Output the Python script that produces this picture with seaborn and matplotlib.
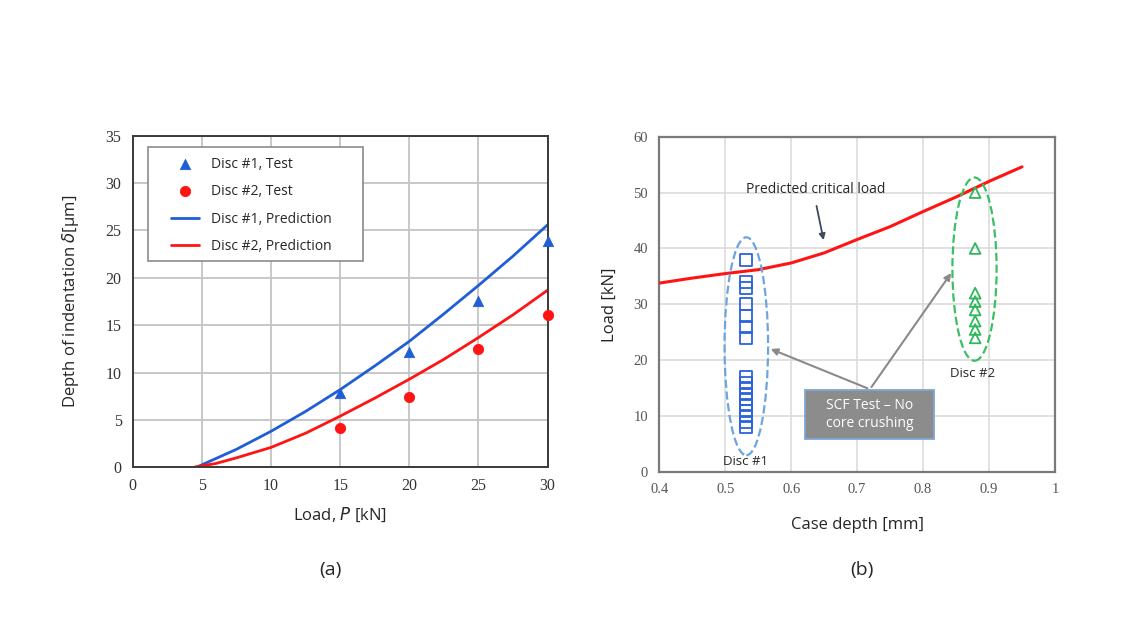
import numpy as np
import pandas as pd
import matplotlib.pyplot as plt
import seaborn as sns
from matplotlib.patches import Ellipse, Rectangle

# (a) indentation test vs prediction
load_test = [15, 20, 25, 30]
disc1_test = [7.8, 12.2, 17.6, 23.9]
disc2_test = [4.2, 7.4, 12.5, 16.1]

load_pred1 = [4.6, 7.5, 10, 12.5, 15, 17.5, 20, 22.5, 25, 27.5, 30]
disc1_pred = [0.0, 1.9, 3.8, 5.9, 8.2, 10.7, 13.3, 16.2, 19.2, 22.3, 25.6]
load_pred2 = [4.4, 6, 7.5, 10, 12.5, 15, 17.5, 20, 22.5, 25, 27.5, 30]
disc2_pred = [0.0, 0.4, 1.0, 2.1, 3.6, 5.4, 7.3, 9.3, 11.4, 13.7, 16.1, 18.7]

# (b) case depth vs critical load
depth_curve = [0.4, 0.45, 0.5, 0.55, 0.6, 0.625, 0.65, 0.7, 0.75, 0.8, 0.85, 0.9, 0.95]
load_curve = [33.8, 34.7, 35.5, 36.2, 37.4, 38.3, 39.2, 41.6, 43.9, 46.6, 49.2, 52.0, 54.6]

disc1_depth = 0.531
disc1_loads = [38, 34, 33, 30, 28, 26, 24, 17, 16, 15, 14, 13, 12, 11, 10, 9, 8]
disc2_depth = 0.879
disc2_loads = [50, 40, 32, 30.5, 29, 27, 25.5, 24]

sns.set_style("white")
plt.rcParams['font.family'] = ['Open Sans', 'DejaVu Sans']

fig = plt.figure(figsize=(11.4, 6.42), dpi=100)
ax1 = fig.add_axes([0.1164, 0.2721, 0.364, 0.5165])
ax2 = fig.add_axes([0.5783, 0.2648, 0.3471, 0.5223])

blue = '#1f5ed6'
red = '#ff1414'

# ---- panel (a)
sns.lineplot(x=load_pred1, y=disc1_pred, ax=ax1, color=blue, lw=2, label='Disc #1, Prediction')
sns.lineplot(x=load_pred2, y=disc2_pred, ax=ax1, color=red, lw=2, label='Disc #2, Prediction')
sns.scatterplot(x=load_test, y=disc1_test, ax=ax1, color=blue, marker='^', s=55,
                edgecolor=blue, label='Disc #1, Test', zorder=4, clip_on=False)
sns.scatterplot(x=load_test, y=disc2_test, ax=ax1, color=red, marker='o', s=55,
                edgecolor=red, label='Disc #2, Test', zorder=4, clip_on=False)

ax1.set_xlim(0, 30)
ax1.set_ylim(0, 35)
ax1.set_xticks(range(0, 31, 5))
ax1.set_yticks(range(0, 36, 5))
ax1.grid(True, color='#c4c4c4', lw=1.3)
ax1.set_axisbelow(True)
for s in ax1.spines.values():
    s.set_color('#3a3a3a')
    s.set_linewidth(1.4)
ax1.tick_params(length=0, pad=8)
for t in ax1.get_xticklabels() + ax1.get_yticklabels():
    t.set_family('Liberation Serif')
    t.set_fontsize(11.5)
    t.set_color('#333333')
ax1.set_xlabel('Load, $\\it{P}$ [kN]', fontsize=12, labelpad=8)
ax1.set_ylabel('Depth of indentation $\\it{\\delta}$[μm]', fontsize=12, labelpad=18)

# legend box drawn separately so the padding matches the original
ax1.add_patch(Rectangle((0.037, 0.622), 0.518, 0.344, transform=ax1.transAxes,
                        fc='white', ec='#8a8a8a', lw=1.2, zorder=4.5))
h, l = ax1.get_legend_handles_labels()
order = [2, 3, 0, 1]
leg = ax1.legend([h[i] for i in order], [l[i] for i in order], loc='upper left',
                 bbox_to_anchor=(0.092, 0.937), fontsize=10, frameon=False,
                 labelspacing=0.9, handlelength=2.0, handletextpad=0.9,
                 borderpad=0, borderaxespad=0)
leg.set_zorder(6)

# ---- panel (b)
sns.lineplot(x=depth_curve, y=load_curve, ax=ax2, color=red, lw=2.2, zorder=3)
sns.scatterplot(x=[disc1_depth] * len(disc1_loads), y=disc1_loads, ax=ax2, marker='s',
                s=75, fc='none', ec='#2b63d9', linewidth=1.3, zorder=4)
sns.scatterplot(x=[disc2_depth] * len(disc2_loads), y=disc2_loads, ax=ax2, marker='^',
                s=60, fc='none', ec='#2eb85c', linewidth=1.3, zorder=4)

ax2.add_patch(Ellipse((0.532, 22.5), 0.066, 39, fill=False, ls='--', lw=1.6,
                      ec='#6aa5e0', zorder=3))
ax2.add_patch(Ellipse((0.878, 36.3), 0.067, 32.8, fill=False, ls='--', lw=1.6,
                      ec='#3cbf63', zorder=3))

ax2.add_patch(Rectangle((0.621, 5.9), 0.196, 8.8, fc='#8c8c8c', ec='#7fa7d6', lw=1.3, zorder=5))
ax2.text(0.719, 10.3, 'SCF Test – No\ncore crushing', color='white', fontsize=10,
         ha='center', va='center', zorder=6, linespacing=1.2)

for tgt in [(0.565, 22.2), (0.845, 36.0)]:
    ax2.annotate('', xy=tgt, xytext=(0.7194, 14.8),
                 arrowprops=dict(arrowstyle='-|>', color='#8a8a8a', lw=1.5,
                                 mutation_scale=10), zorder=4)

ax2.annotate('', xy=(0.650, 41.0), xytext=(0.6376, 48.1),
             arrowprops=dict(arrowstyle='-|>', color='#3d4b5c', lw=1.3, mutation_scale=9))
ax2.text(0.531, 50.6, 'Predicted critical load', fontsize=10, ha='left', va='center')
ax2.text(0.531, 1.85, 'Disc #1', fontsize=9.5, ha='center', va='center')
ax2.text(0.875, 17.7, 'Disc #2', fontsize=9.5, ha='center', va='center')

ax2.set_xlim(0.4, 1.0)
ax2.set_ylim(0, 60)
ax2.set_xticks([0.4, 0.5, 0.6, 0.7, 0.8, 0.9, 1.0])
ax2.set_xticklabels(['0.4', '0.5', '0.6', '0.7', '0.8', '0.9', '1'])
ax2.set_yticks(range(0, 61, 10))
ax2.grid(True, color='#dcdcdc', lw=1.2)
ax2.set_axisbelow(True)
for s in ax2.spines.values():
    s.set_color('#7a7a7a')
    s.set_linewidth(1.6)
ax2.tick_params(length=0, pad=8)
for t in ax2.get_xticklabels() + ax2.get_yticklabels():
    t.set_family('Liberation Serif')
    t.set_fontsize(10.5)
    t.set_color('#555555')
ax2.set_xlabel('Case depth [mm]', fontsize=12, labelpad=15)
ax2.set_ylabel('Load [kN]', fontsize=12, labelpad=11)
if ax2.get_legend() is not None:
    ax2.get_legend().remove()

fig.text(0.2895, 0.112, '(a)', fontsize=14, ha='center', va='center')
fig.text(0.756, 0.112, '(b)', fontsize=14, ha='center', va='center')

fig.savefig('out.png', dpi=100, facecolor='white')
